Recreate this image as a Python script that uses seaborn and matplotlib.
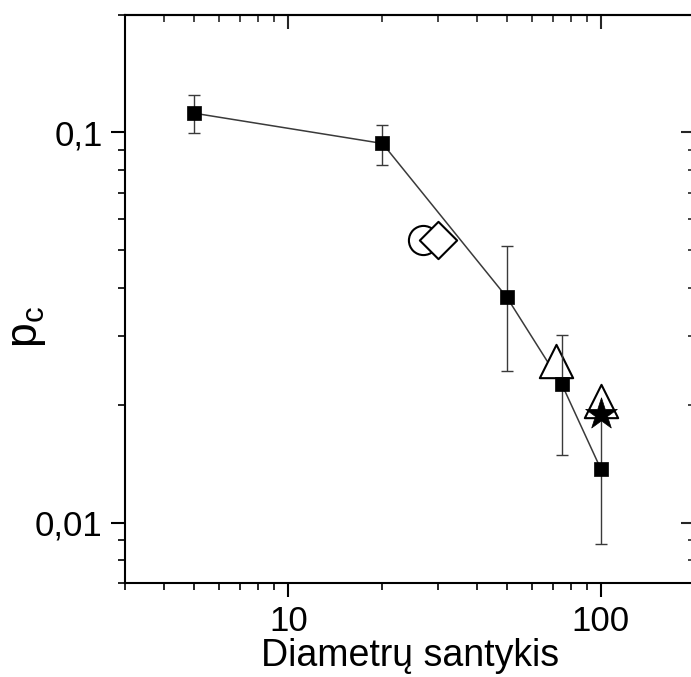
import matplotlib
matplotlib.use("Agg")
import matplotlib.pyplot as plt
import seaborn as sns
import pandas as pd
from matplotlib.ticker import FixedLocator, LogLocator, NullFormatter

# Critical fraction vs. diameter ratio (main series with error bars)
ratio = [5, 20, 50, 75, 100]
pc = [0.112, 0.0937, 0.0378, 0.0226, 0.0137]
pc_err = [0.0125, 0.011, 0.0133, 0.0077, 0.0049]

# Additional single reference points
circle_x, circle_y = [27], [0.053]
diamond_x, diamond_y = [30], [0.053]
triangle_x = [72, 100]
triangle_y = [0.026, 0.0205]
star_x, star_y = [100], [0.019]

x_ticks = [10, 100]
x_ticklabels = ["10", "100"]
y_ticks = [0.01, 0.1]
y_ticklabels = ["0,01", "0,1"]

sns.set_theme(style="ticks")
plt.rcParams["font.family"] = ["Liberation Sans", "DejaVu Sans"]
plt.rcParams["mathtext.fontset"] = "custom"
plt.rcParams["mathtext.rm"] = "Liberation Sans"

fig = plt.figure(figsize=(6.91, 6.77), dpi=100)
ax = fig.add_axes([125 / 691, 94 / 677, 570 / 691, 568 / 677])

df = pd.DataFrame({"ratio": ratio, "pc": pc})
sns.lineplot(data=df, x="ratio", y="pc", ax=ax, color="#3a3a3a", lw=1.1,
             zorder=2, legend=False)

sns.scatterplot(x=circle_x, y=circle_y, ax=ax, marker="o", s=21 ** 2,
                facecolor="white", edgecolor="black", linewidth=1.5, zorder=3)
sns.scatterplot(x=diamond_x, y=diamond_y, ax=ax, marker="D", s=19 ** 2,
                facecolor="white", edgecolor="black", linewidth=1.5, zorder=3)
sns.scatterplot(x=triangle_x, y=triangle_y, ax=ax, marker="^", s=24 ** 2,
                facecolor="white", edgecolor="black", linewidth=1.5, zorder=3)

ax.errorbar(ratio, pc, yerr=pc_err, fmt="none", ecolor="#3a3a3a",
            elinewidth=1.0, capsize=4.5, capthick=1.0, zorder=4)
sns.scatterplot(x=ratio, y=pc, ax=ax, marker="s", s=9.5 ** 2,
                color="black", edgecolor="black", linewidth=0.5, zorder=5)
sns.scatterplot(x=star_x, y=star_y, ax=ax, marker="*", s=24 ** 2,
                color="black", edgecolor="black", linewidth=0.5, zorder=6)

ax.set_xscale("log")
ax.set_yscale("log")
ax.set_xlim(3, 200)
ax.set_ylim(0.007, 0.2)

ax.xaxis.set_major_locator(FixedLocator(x_ticks))
ax.set_xticklabels(x_ticklabels)
ax.xaxis.set_minor_locator(LogLocator(base=10, subs=range(2, 10)))
ax.xaxis.set_minor_formatter(NullFormatter())
ax.yaxis.set_major_locator(FixedLocator(y_ticks))
ax.set_yticklabels(y_ticklabels)
ax.yaxis.set_minor_locator(LogLocator(base=10, subs=range(2, 10)))
ax.yaxis.set_minor_formatter(NullFormatter())

ax.tick_params(axis="both", which="major", labelsize=25, length=10,
               width=1.5, color="black", labelcolor="black", pad=6)
ax.tick_params(axis="both", which="minor", length=5, width=1.2,
               color="black")
ax.tick_params(axis="both", which="both", direction="out")

# Mirror ticks on top and right, pointing inward, without labels
top = ax.secondary_xaxis("top")
top.xaxis.set_major_locator(FixedLocator(x_ticks))
top.xaxis.set_minor_locator(LogLocator(base=10, subs=range(2, 10)))
top.xaxis.set_minor_formatter(NullFormatter())
top.tick_params(which="major", direction="in", length=10, width=1.5,
                labeltop=False)
top.tick_params(which="minor", direction="in", length=5, width=1.2)
right = ax.secondary_yaxis("right")
right.yaxis.set_major_locator(FixedLocator(y_ticks))
right.yaxis.set_minor_locator(LogLocator(base=10, subs=range(2, 10)))
right.yaxis.set_minor_formatter(NullFormatter())
right.tick_params(which="major", direction="in", length=10, width=1.5,
                  labelright=False)
right.tick_params(which="minor", direction="in", length=5, width=1.2)

for sp in ax.spines.values():
    sp.set_linewidth(1.5)
    sp.set_color("black")
top.spines["top"].set_linewidth(1.5)
right.spines["right"].set_linewidth(1.5)

ax.set_xlabel("Diametrų santykis", fontsize=27, labelpad=0, color="black")
ax.set_ylabel(r"$\mathregular{p_c}$", fontsize=32, color="black")
ax.yaxis.set_label_coords(-0.135, 0.45)

fig.savefig("out.png", dpi=100, facecolor="white")
